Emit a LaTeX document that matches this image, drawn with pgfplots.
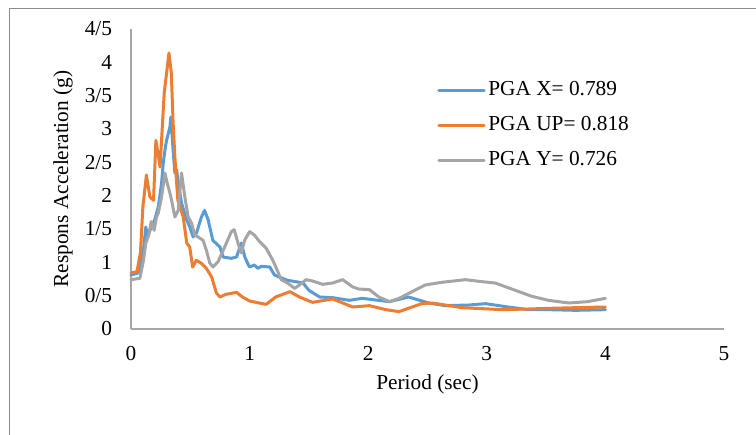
\documentclass[border=0pt]{standalone}
\usepackage{pgfplots}
\pgfplotsset{compat=1.18}
\usepackage{fontspec}
\setmainfont{Liberation Serif}
\definecolor{cX}{HTML}{5B9BD5}
\definecolor{cUP}{HTML}{ED7D31}
\definecolor{cY}{HTML}{A5A5A5}
\definecolor{axgray}{HTML}{A6A6A6}
\begin{document}
\begin{tikzpicture}
\path[use as bounding box] (0,0) rectangle (567pt,326.25pt);
\draw[color=gray!90, line width=0.75pt] (6.75pt,-2pt) -- (6.75pt,319.5pt) -- (569pt,319.5pt);
\begin{axis}[
  at={(98.25pt,79.5pt)}, anchor=south west,
  scale only axis, width=444.75pt, height=225pt,
  xmin=0, xmax=5, ymin=0, ymax=4.5,
  axis x line*=bottom, axis y line*=left,
  axis line style={draw=axgray, line width=1pt, -},
  major tick length=0pt,
  xtick={0,1,2,3,4,5}, xticklabels={0,1,2,3,4,5},
  ytick={0,0.5,1,1.5,2,2.5,3,3.5,4,4.5},
  yticklabels={0,0/5,1,1/5,2,2/5,3,3/5,4,4/5},
  font=\fontsize{16}{19}\selectfont,
  tick label style={font=\fontsize{16}{19}\selectfont, inner sep=0pt},
  yticklabel shift=14pt,
  xticklabel shift=13pt,
  xlabel={Period (sec)},
  ylabel={Respons Acceleration (g)},
  xlabel style={at={(axis description cs:0.5,-0.183)}, anchor=center},
  ylabel style={at={(axis description cs:-0.1147,0.5)}, anchor=center},
  legend style={draw=none, fill=none, at={(axis description cs:0.516,0.833)}, anchor=north west,
    inner sep=0pt, row sep=10.25pt, font=\fontsize{16}{19}\selectfont,
    nodes={inner ysep=0pt, inner xsep=2pt, text height=12pt, text depth=4pt}},
  legend cell align=left,
  legend image code/.code={\draw[#1, line width=2.25pt] (0pt,0pt) -- (34pt,0pt);},
  every axis plot/.append style={line width=2.25pt, line join=round, line cap=round},
  clip=false,
]
\addplot[cX] coordinates {
(0.00,0.81)(0.06,0.84)(0.075,0.91)(0.105,1.18)(0.125,1.53)(0.14,1.38)(0.16,1.48)(0.20,1.64)
(0.23,1.83)(0.258,2.19)(0.272,2.49)(0.286,2.68)(0.30,2.83)(0.328,3.03)(0.336,3.18)(0.355,2.68)
(0.37,2.34)(0.385,2.39)(0.398,2.19)(0.426,1.89)(0.468,1.64)(0.496,1.53)(0.524,1.38)(0.552,1.44)
(0.594,1.68)(0.62,1.78)(0.65,1.64)(0.69,1.33)(0.75,1.23)(0.776,1.08)(0.846,1.06)(0.89,1.08)
(0.93,1.29)(0.96,1.08)(0.99,0.96)(1.00,0.93)(1.04,0.96)(1.07,0.91)(1.10,0.94)(1.17,0.93)
(1.21,0.81)(1.25,0.78)(1.32,0.73)(1.39,0.71)(1.45,0.69)(1.50,0.58)(1.59,0.48)(1.70,0.47)
(1.84,0.43)(1.95,0.46)(2.04,0.44)(2.18,0.41)(2.34,0.48)(2.51,0.39)(2.65,0.35)(2.85,0.36)
(2.99,0.38)(3.18,0.33)(3.35,0.29)(3.52,0.29)(3.75,0.28)(4.00,0.29)
};
\addlegendentry{PGA X= 0.789}
\addplot[cUP] coordinates {
(0.00,0.84)(0.05,0.86)(0.08,1.15)(0.10,1.83)(0.13,2.31)(0.14,2.19)(0.16,1.98)(0.19,1.93)
(0.21,2.83)(0.245,2.43)(0.28,3.54)(0.30,3.84)(0.32,4.14)(0.34,3.84)(0.355,3.09)(0.37,2.58)
(0.395,1.93)(0.44,1.68)(0.47,1.29)(0.495,1.23)(0.52,0.93)(0.55,1.03)(0.59,0.99)(0.635,0.91)
(0.68,0.78)(0.72,0.54)(0.75,0.48)(0.80,0.52)(0.89,0.55)(0.94,0.48)(1.00,0.42)(1.08,0.39)
(1.14,0.37)(1.22,0.48)(1.34,0.56)(1.42,0.48)(1.53,0.40)(1.70,0.45)(1.87,0.33)(2.01,0.35)
(2.15,0.29)(2.26,0.26)(2.45,0.38)(2.54,0.39)(2.79,0.32)(3.13,0.29)(3.35,0.30)(3.52,0.31)
(3.75,0.32)(4.00,0.33)
};
\addlegendentry{PGA UP= 0.818}
\addplot[cY] coordinates {
(0.00,0.74)(0.075,0.76)(0.105,1.03)(0.125,1.29)(0.15,1.41)(0.17,1.61)(0.195,1.48)(0.215,1.68)
(0.23,1.74)(0.258,1.98)(0.286,2.34)(0.305,2.19)(0.328,2.04)(0.342,1.93)(0.37,1.68)(0.398,1.78)
(0.426,2.34)(0.454,1.98)(0.482,1.68)(0.51,1.59)(0.538,1.41)(0.566,1.38)(0.608,1.33)(0.636,1.18)
(0.664,0.99)(0.692,0.93)(0.734,1.01)(0.79,1.23)(0.846,1.46)(0.87,1.49)(0.902,1.29)(0.93,1.14)
(0.958,1.33)(1.00,1.46)(1.04,1.41)(1.084,1.31)(1.14,1.21)(1.196,1.03)(1.238,0.86)(1.266,0.74)
(1.32,0.69)(1.38,0.61)(1.42,0.66)(1.476,0.74)(1.53,0.72)(1.616,0.67)(1.70,0.69)(1.785,0.74)
(1.87,0.63)(1.92,0.60)(2.01,0.59)(2.09,0.48)(2.18,0.41)(2.26,0.46)(2.37,0.56)(2.48,0.66)
(2.62,0.70)(2.82,0.74)(2.96,0.71)(3.07,0.69)(3.21,0.60)(3.38,0.49)(3.52,0.43)(3.69,0.39)
(3.85,0.41)(4.00,0.46)
};
\addlegendentry{PGA Y= 0.726}
\end{axis}
\end{tikzpicture}
\end{document}
